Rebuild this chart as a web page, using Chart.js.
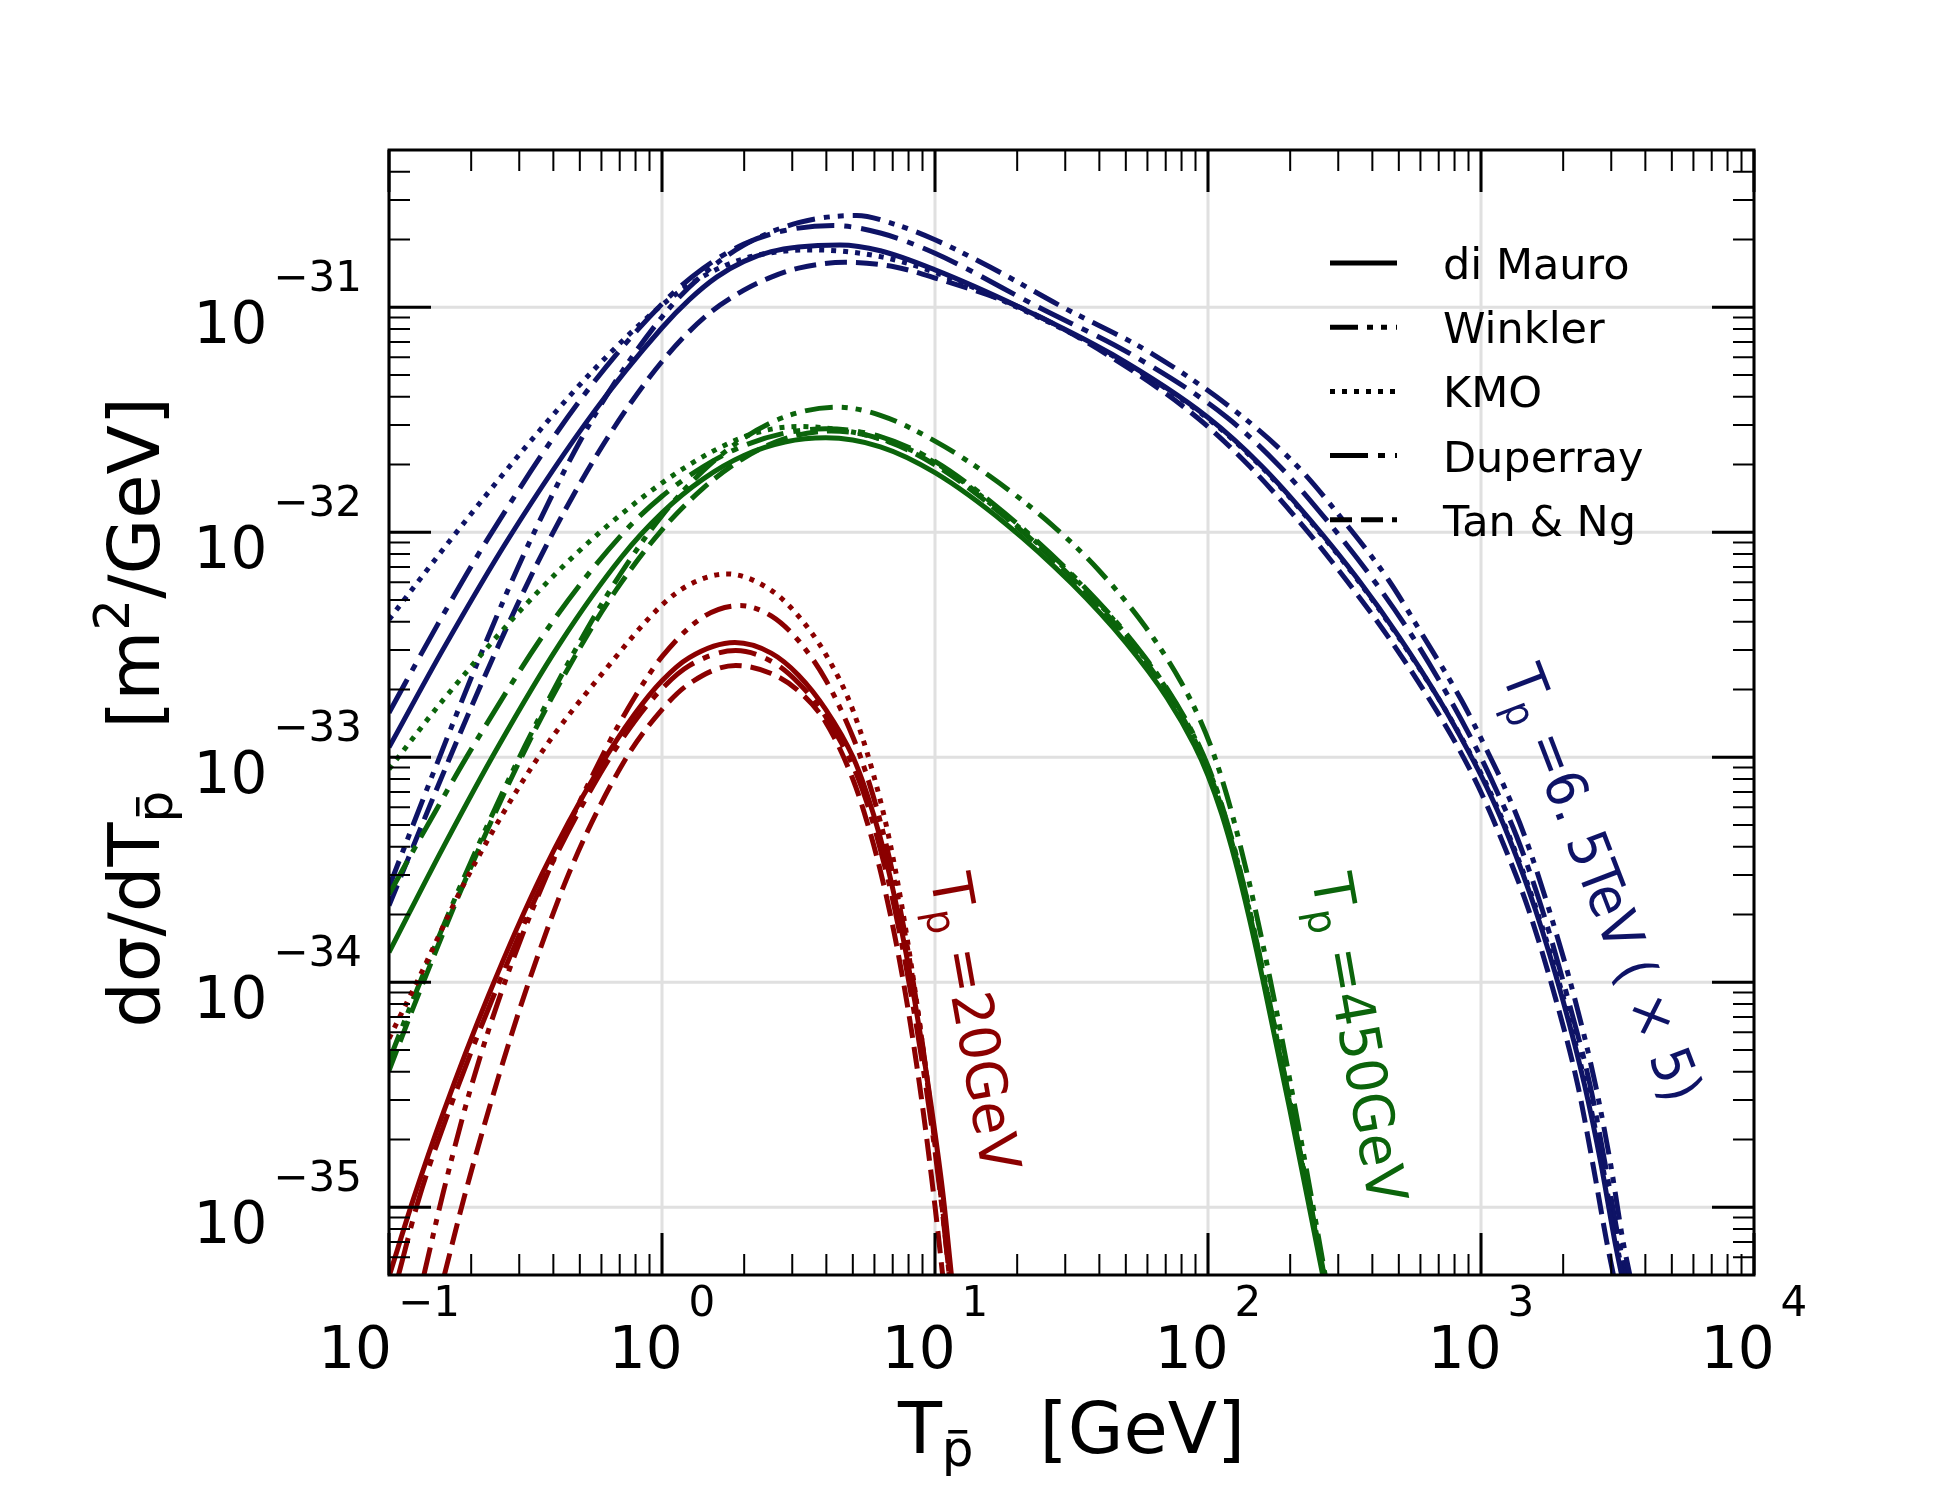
<!DOCTYPE html>
<html>
<head>
<meta charset="utf-8">
<script src="https://cdn.jsdelivr.net/npm/chart.js@4.4.1/dist/chart.umd.min.js"></script>
<style>
  html, body { margin: 0; padding: 0; background: #fff; }
  #wrap { width: 1950px; height: 1500px; }
</style>
</head>
<body>
<div id="wrap"><canvas id="chart" width="1950" height="1500"></canvas></div>
<script>
// models, in legend order
const models = ['di Mauro', 'Winkler', 'KMO', 'Duperray', 'Tan & Ng'];
const dashes = [[], [28, 9, 6, 8, 6, 9], [5, 7], [38, 10, 7, 10], [22, 9]];

// axis ticks (exponents of 10)
const xTickExp = [-1, 0, 1, 2, 3, 4];
const yTickExp = [-35, -34, -33, -32, -31];

// values, stored as log10(T / GeV) and log10(dsigma/dT / (m^2/GeV))

// Tp = 20 GeV
const red_diMauro_logT = [-0.998, -0.911, -0.8, -0.636, -0.44, -0.233, -0.1, 0, 0.1, 0.267, 0.4, 0.5, 0.6, 0.7, 0.75, 0.8, 0.85, 0.9, 0.95, 1.0, 1.03, 1.06];
const red_diMauro_logY = [-35.30, -34.965, -34.576, -34.06, -33.52, -33.054, -32.808, -32.66, -32.557, -32.49, -32.537, -32.635, -32.788, -33.0, -33.16, -33.36, -33.61, -33.91, -34.26, -34.67, -34.95, -35.30];
const red_Winkler_logT = [-0.872, -0.801, -0.7, -0.569, -0.4, -0.209, -0.1, 0, 0.15, 0.286, 0.4, 0.5, 0.6, 0.7, 0.75, 0.8, 0.85, 0.9, 0.95, 1.0, 1.03, 1.052];
const red_Winkler_logY = [-35.30, -34.933, -34.468, -33.977, -33.462, -32.97, -32.733, -32.553, -32.377, -32.326, -32.372, -32.482, -32.657, -32.912, -33.08, -33.287, -33.542, -33.852, -34.237, -34.715, -35.045, -35.30];
const red_KMO_logT = [-1, -0.894, -0.72, -0.459, -0.2, 0, 0.1, 0.237, 0.4, 0.5, 0.6, 0.7, 0.8, 0.85, 0.9, 0.95, 1.0, 1.03, 1.055];
const red_KMO_logY = [-34.25, -33.99, -33.55, -33.01, -32.6, -32.323, -32.233, -32.185, -32.258, -32.373, -32.543, -32.793, -33.193, -33.47, -33.82, -34.24, -34.72, -35.03, -35.30];
const red_Duperray_logT = [-0.965, -0.89, -0.78, -0.62, -0.43, -0.225, -0.1, 0, 0.1, 0.27, 0.4, 0.5, 0.6, 0.7, 0.75, 0.8, 0.85, 0.9, 0.95, 1.0, 1.03, 1.052];
const red_Duperray_logY = [-35.30, -34.96, -34.57, -34.07, -33.54, -33.07, -32.84, -32.695, -32.593, -32.526, -32.573, -32.67, -32.82, -33.04, -33.2, -33.41, -33.66, -33.97, -34.33, -34.75, -35.05, -35.30];
const red_TanNg_logT = [-0.797, -0.722, -0.6, -0.484, -0.33, -0.135, 0, 0.1, 0.27, 0.4, 0.5, 0.6, 0.7, 0.75, 0.8, 0.85, 0.9, 0.95, 1.0, 1.028];
const red_TanNg_logY = [-35.30, -34.944, -34.425, -33.984, -33.484, -33.011, -32.788, -32.673, -32.592, -32.628, -32.705, -32.845, -33.10, -33.283, -33.505, -33.778, -34.11, -34.513, -34.995, -35.30];

// Tp = 450 GeV
const green_diMauro_logT = [-1, -0.8, -0.6, -0.376, -0.148, 0, 0.15, 0.3, 0.45, 0.6, 0.8, 1.0, 1.26, 1.5, 1.7, 1.85, 1.95, 2.0, 2.05, 2.1, 2.15, 2.2, 2.3, 2.4, 2.42];
const green_diMauro_logY = [-33.867, -33.397, -32.952, -32.498, -32.11, -31.914, -31.764, -31.659, -31.599, -31.58, -31.62, -31.735, -31.963, -32.227, -32.492, -32.736, -32.946, -33.081, -33.251, -33.461, -33.708, -33.983, -34.568, -35.178, -35.30];
const green_Winkler_logT = [-1, -0.89, -0.7, -0.5, -0.3, -0.15, 0, 0.15, 0.3, 0.45, 0.64, 0.8, 1.0, 1.2, 1.43, 1.6, 1.77, 1.9, 1.97, 2.02, 2.07, 2.12, 2.17, 2.25, 2.35, 2.43];
const green_Winkler_logY = [-34.349, -34.011, -33.465, -32.945, -32.485, -32.181, -31.926, -31.727, -31.581, -31.487, -31.444, -31.48, -31.595, -31.75, -31.969, -32.169, -32.419, -32.663, -32.831, -32.983, -33.173, -33.401, -33.658, -34.122, -34.762, -35.306];
const green_KMO_logT = [-1, -0.8, -0.5, -0.26, 0, 0.2, 0.35, 0.5, 0.8, 1.0, 1.26, 1.5, 1.7, 1.85, 1.95, 2.0, 2.05, 2.1, 2.15, 2.2, 2.3, 2.4, 2.425];
const green_KMO_logY = [-33.053, -32.743, -32.323, -32.035, -31.781, -31.631, -31.556, -31.53, -31.585, -31.69, -31.93, -32.19, -32.455, -32.70, -32.91, -33.045, -33.215, -33.425, -33.672, -33.947, -34.532, -35.142, -35.30];
const green_Duperray_logT = [-1, -0.85, -0.69, -0.4, -0.145, 0, 0.15, 0.3, 0.45, 0.6, 0.8, 1.0, 1.26, 1.5, 1.7, 1.85, 1.95, 2.0, 2.05, 2.1, 2.15, 2.2, 2.3, 2.4, 2.425];
const green_Duperray_logY = [-33.609, -33.283, -32.947, -32.396, -32.007, -31.84, -31.709, -31.615, -31.559, -31.54, -31.575, -31.685, -31.92, -32.185, -32.45, -32.695, -32.905, -33.04, -33.21, -33.42, -33.667, -33.942, -34.527, -35.137, -35.30];
const green_TanNg_logT = [-1, -0.9, -0.7, -0.47, -0.27, -0.15, 0, 0.15, 0.3, 0.45, 0.62, 0.8, 1.0, 1.26, 1.5, 1.7, 1.85, 1.95, 2.0, 2.05, 2.1, 2.15, 2.2, 2.3, 2.4, 2.423];
const green_TanNg_logY = [-34.393, -34.078, -33.488, -32.89, -32.45, -32.225, -31.989, -31.805, -31.67, -31.584, -31.55, -31.585, -31.70, -31.935, -32.20, -32.465, -32.71, -32.92, -33.055, -33.225, -33.435, -33.682, -33.957, -34.542, -35.152, -35.30];

// Tp = 6.5 TeV, already multiplied by 5
const blue_diMauro_logT = [-1, -0.8, -0.559, -0.25, 0, 0.1, 0.2, 0.3, 0.4, 0.5, 0.652, 0.8, 1.0, 1.31, 1.65, 2.0, 2.2, 2.374, 2.55, 2.7, 2.85, 2.95, 3.02, 3.1, 3.2, 3.3, 3.38, 3.44, 3.49, 3.515];
const blue_diMauro_logY = [-32.956, -32.516, -32.022, -31.466, -31.091, -30.966, -30.866, -30.796, -30.753, -30.732, -30.723, -30.749, -30.834, -31.0, -31.21, -31.49, -31.71, -31.945, -32.21, -32.465, -32.75, -32.965, -33.13, -33.35, -33.68, -34.08, -34.46, -34.81, -35.15, -35.30];
const blue_Winkler_logT = [-1, -0.83, -0.66, -0.493, -0.25, 0, 0.15, 0.3, 0.5, 0.713, 0.85, 1.0, 1.2, 1.469, 1.8, 2.13, 2.33, 2.494, 2.66, 2.79, 2.93, 3.02, 3.085, 3.16, 3.25, 3.345, 3.42, 3.475, 3.52, 3.545];
const blue_Winkler_logY = [-33.577, -33.046, -32.532, -32.064, -31.487, -31.043, -30.855, -30.724, -30.624, -30.592, -30.63, -30.70, -30.82, -31.0, -31.21, -31.49, -31.71, -31.945, -32.21, -32.465, -32.75, -32.965, -33.13, -33.35, -33.68, -34.08, -34.46, -34.81, -35.15, -35.30];
const blue_KMO_logT = [-1, -0.78, -0.5, -0.25, 0, 0.15, 0.3, 0.45, 0.55, 0.8, 1.0, 1.31, 1.65, 2.0, 2.2, 2.374, 2.55, 2.7, 2.85, 2.95, 3.02, 3.1, 3.2, 3.3, 3.38, 3.44, 3.49, 3.52];
const blue_KMO_logY = [-32.388, -32.042, -31.622, -31.278, -30.99, -30.863, -30.784, -30.75, -30.745, -30.775, -30.845, -31.005, -31.215, -31.495, -31.715, -31.95, -32.215, -32.47, -32.75, -32.96, -33.12, -33.34, -33.665, -34.06, -34.44, -34.78, -35.12, -35.30];
const blue_Duperray_logT = [-1, -0.82, -0.641, -0.3, 0, 0.15, 0.3, 0.45, 0.628, 0.8, 1.0, 1.38, 1.72, 2.07, 2.265, 2.434, 2.605, 2.75, 2.89, 2.985, 3.05, 3.13, 3.225, 3.32, 3.40, 3.455, 3.505, 3.53];
const blue_Duperray_logY = [-32.802, -32.406, -32.035, -31.413, -30.985, -30.828, -30.719, -30.659, -30.637, -30.67, -30.76, -31.0, -31.21, -31.49, -31.71, -31.945, -32.21, -32.465, -32.75, -32.965, -33.13, -33.35, -33.68, -34.08, -34.46, -34.81, -35.15, -35.30];
const blue_TanNg_logT = [-1, -0.78, -0.6, -0.412, -0.2, 0, 0.164, 0.3, 0.4, 0.5, 0.67, 0.85, 1.0, 1.31, 1.63, 1.96, 2.155, 2.329, 2.505, 2.66, 2.815, 2.92, 2.99, 3.07, 3.175, 3.275, 3.355, 3.41, 3.46, 3.485];
const blue_TanNg_logY = [-33.659, -33.01, -32.506, -32.031, -31.581, -31.241, -31.036, -30.924, -30.866, -30.826, -30.80, -30.82, -30.87, -31.0, -31.21, -31.49, -31.71, -31.945, -32.21, -32.465, -32.75, -32.965, -33.13, -33.35, -33.68, -34.08, -34.46, -34.81, -35.15, -35.30];

const RED = '#8b0000', GREEN = '#0b640b', BLUE = '#0e1366';
const FONT = '"DejaVu Sans", "Liberation Sans", sans-serif';

const groups = [
  { color: RED, T: [red_diMauro_logT, red_Winkler_logT, red_KMO_logT, red_Duperray_logT, red_TanNg_logT],
    Y: [red_diMauro_logY, red_Winkler_logY, red_KMO_logY, red_Duperray_logY, red_TanNg_logY] },
  { color: GREEN, T: [green_diMauro_logT, green_Winkler_logT, green_KMO_logT, green_Duperray_logT, green_TanNg_logT],
    Y: [green_diMauro_logY, green_Winkler_logY, green_KMO_logY, green_Duperray_logY, green_TanNg_logY] },
  { color: BLUE, T: [blue_diMauro_logT, blue_Winkler_logT, blue_KMO_logT, blue_Duperray_logT, blue_TanNg_logT],
    Y: [blue_diMauro_logY, blue_Winkler_logY, blue_KMO_logY, blue_Duperray_logY, blue_TanNg_logY] }
];

const datasets = [];
groups.forEach(g => {
  models.forEach((m, i) => {
    datasets.push({
      label: m,
      data: g.T[i].map((lt, k) => ({ x: Math.pow(10, lt), y: Math.pow(10, g.Y[i][k]) })),
      borderColor: g.color,
      borderDash: dashes[i],
      borderWidth: 5,
      pointRadius: 0,
      fill: false,
      cubicInterpolationMode: 'monotone',
      clip: 0
    });
  });
});

// ---- drawing helpers ----
function setFont(ctx, px) { ctx.font = px + 'px ' + FONT; }

function runsWidth(ctx, runs) {
  let w = 0;
  runs.forEach(r => { setFont(ctx, r.size); w += ctx.measureText(r.text).width + (r.after || 0); });
  return w;
}

function drawRuns(ctx, runs, x, y) {
  runs.forEach(r => {
    setFont(ctx, r.size);
    const w = ctx.measureText(r.text).width;
    const by = y + (r.dy || 0);
    ctx.fillText(r.text, x, by);
    if (r.bar) ctx.fillRect(x + w * 0.2, by - r.size * 0.72, w * 0.6, Math.max(3, r.size * 0.07));
    x += w + (r.after || 0);
  });
}

function drawPow(ctx, exp, x, baseY, mode) {
  const sup = String(exp).replace('-', '\u2212');
  setFont(ctx, 58); const w1 = ctx.measureText('10').width;
  setFont(ctx, 42); const w2 = ctx.measureText(sup).width;
  const gap = 6, total = w1 + gap + w2;
  const left = mode === 'center' ? x - total / 2 : x - total;
  setFont(ctx, 58); ctx.fillText('10', left, baseY);
  setFont(ctx, 42); ctx.fillText(sup, left + w1 + gap, baseY - 52);
}

function minorTicks(lo, hi) {
  const out = [];
  for (let e = Math.floor(Math.log10(lo)); e <= Math.ceil(Math.log10(hi)); e++) {
    for (let m = 2; m <= 9; m++) {
      const v = m * Math.pow(10, e);
      if (v >= lo * 0.999 && v <= hi * 1.001) out.push(v);
    }
  }
  return out;
}

function drawNote(ctx, color, rest, cx, cy, deg, length) {
  const runs = [{ text: 'T', size: 56 }, { text: 'p', size: 40, dy: 11 }, { text: rest, size: 56 }];
  const w = runsWidth(ctx, runs);
  ctx.save();
  ctx.translate(cx, cy);
  ctx.rotate(deg * Math.PI / 180);
  ctx.scale(length / w, 1);
  ctx.fillStyle = color;
  ctx.textAlign = 'left';
  ctx.textBaseline = 'alphabetic';
  drawRuns(ctx, runs, -w / 2, 20);
  ctx.restore();
}

const decor = {
  id: 'decor',
  beforeDatasetsDraw(chart) {
    const { ctx, chartArea: a, scales: { x, y } } = chart;
    ctx.save();
    ctx.strokeStyle = '#e0e0e0';
    ctx.lineWidth = 3;
    ctx.beginPath();
    xTickExp.forEach(e => { const p = x.getPixelForValue(Math.pow(10, e)); ctx.moveTo(p, a.top); ctx.lineTo(p, a.bottom); });
    yTickExp.forEach(e => { const p = y.getPixelForValue(Math.pow(10, e)); ctx.moveTo(a.left, p); ctx.lineTo(a.right, p); });
    ctx.stroke();
    ctx.restore();
  },
  afterDatasetsDraw(chart) {
    const { ctx, chartArea: a, scales: { x, y } } = chart;
    ctx.save();
    ctx.strokeStyle = '#000';
    ctx.fillStyle = '#000';

    // ticks, inward on all four sides
    const tick = (vals, len, lw) => {
      ctx.lineWidth = lw;
      ctx.beginPath();
      vals.x.forEach(v => {
        const p = x.getPixelForValue(v);
        ctx.moveTo(p, a.bottom); ctx.lineTo(p, a.bottom - len);
        ctx.moveTo(p, a.top); ctx.lineTo(p, a.top + len);
      });
      vals.y.forEach(v => {
        const p = y.getPixelForValue(v);
        ctx.moveTo(a.left, p); ctx.lineTo(a.left + len, p);
        ctx.moveTo(a.right, p); ctx.lineTo(a.right - len, p);
      });
      ctx.stroke();
    };
    tick({ x: minorTicks(x.min, x.max), y: minorTicks(y.min, y.max) }, 21, 2);
    tick({ x: xTickExp.map(e => Math.pow(10, e)), y: yTickExp.map(e => Math.pow(10, e)) }, 42, 3);

    // frame
    ctx.lineWidth = 3;
    ctx.strokeRect(a.left, a.top, a.right - a.left, a.bottom - a.top);

    // tick labels
    ctx.textAlign = 'left';
    ctx.textBaseline = 'alphabetic';
    xTickExp.forEach(e => drawPow(ctx, e, x.getPixelForValue(Math.pow(10, e)), a.bottom + 93, 'center'));
    yTickExp.forEach(e => drawPow(ctx, e, a.left - 27, y.getPixelForValue(Math.pow(10, e)) + 36, 'right'));

    // axis titles
    const xt = [{ text: 'T', size: 72 }, { text: 'p', size: 50, dy: 13, bar: true, after: 66 }, { text: '[GeV]', size: 72 }];
    drawRuns(ctx, xt, (a.left + a.right) / 2 - runsWidth(ctx, xt) / 2, 1453);

    const yt = [{ text: 'd\u03c3/dT', size: 72 }, { text: 'p', size: 50, dy: 13, bar: true, after: 62 },
                { text: '[m', size: 72 }, { text: '2', size: 50, dy: -30 }, { text: '/GeV]', size: 72 }];
    ctx.save();
    ctx.translate(159, (a.top + a.bottom) / 2);
    ctx.rotate(-Math.PI / 2);
    drawRuns(ctx, yt, -runsWidth(ctx, yt) / 2, 0);
    ctx.restore();

    // legend
    models.forEach((m, i) => {
      const ly = 263 + i * 64.2;
      ctx.setLineDash(dashes[i]);
      ctx.lineWidth = 5;
      ctx.beginPath(); ctx.moveTo(1330, ly); ctx.lineTo(1397, ly); ctx.stroke();
      ctx.setLineDash([]);
      setFont(ctx, 43);
      ctx.fillText(m, 1443, ly + 16);
    });

    // curve labels
    drawNote(ctx, RED, ' =20GeV', 976, 1022, 80, 301);
    drawNote(ctx, GREEN, ' =450GeV', 1360, 1038, 80, 333);
    drawNote(ctx, BLUE, ' =6. 5TeV ( \u00d7 5)', 1603, 883, 69, 462);

    ctx.restore();
  }
};

new Chart(document.getElementById('chart').getContext('2d'), {
  type: 'line',
  data: { datasets },
  options: {
    responsive: false,
    animation: false,
    devicePixelRatio: 1,
    layout: { padding: { left: 389, top: 150, right: 196, bottom: 225 } },
    scales: {
      x: { type: 'logarithmic', min: 0.1, max: 1e4, display: false },
      y: { type: 'logarithmic', min: 5e-36, max: 5e-31, display: false }
    },
    plugins: { legend: { display: false }, tooltip: { enabled: false } }
  },
  plugins: [decor]
});
</script>
</body>
</html>
